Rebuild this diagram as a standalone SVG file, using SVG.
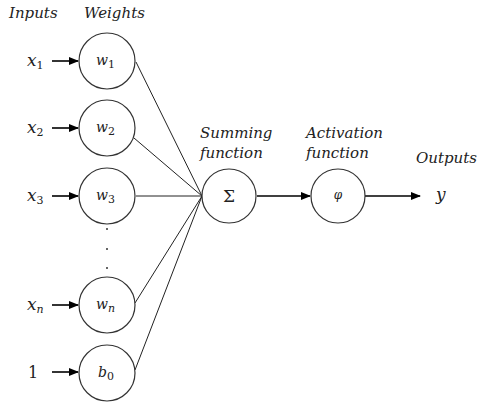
<svg xmlns="http://www.w3.org/2000/svg" width="478" height="405" viewBox="0 0 478 405">
<defs>
<marker id="ah" markerWidth="10" markerHeight="8" refX="9" refY="4" orient="auto" markerUnits="userSpaceOnUse">
<path d="M0,0 L10,4 L0,8 Z" fill="#000"/>
</marker>
<style>
.c{fill:#fff;stroke:#333;stroke-width:1.2}
.t{font-family:"DejaVu Serif","Liberation Serif",serif;font-style:italic;font-size:15px;fill:#222}
.m{font-family:"DejaVu Serif","Liberation Serif",serif;font-style:italic;font-size:17px;fill:#222}
.s{font-size:11px;font-style:normal}
.si{font-size:11px;font-style:italic}
.l{stroke:#222;stroke-width:1;fill:none}
.a{stroke:#000;stroke-width:1.6;fill:none;marker-end:url(#ah)}
</style>
</defs>
<rect width="478" height="405" fill="#fff"/>
<text class="t" x="9" y="18">Inputs</text>
<text class="t" x="84" y="18">Weights</text>
<text class="t" x="200" y="138">Summing</text>
<text class="t" x="200" y="158">function</text>
<text class="t" x="306" y="138">Activation</text>
<text class="t" x="306" y="158">function</text>
<text class="t" x="416" y="163">Outputs</text>
<g id="connectors">
<line class="l" x1="136" y1="62" x2="202" y2="196"/>
<line class="l" x1="134" y1="138" x2="202" y2="196"/>
<line class="l" x1="136" y1="196" x2="202" y2="196"/>
<line class="l" x1="135" y1="303" x2="202" y2="196"/>
<line class="l" x1="135" y1="370" x2="202" y2="196"/>
<line class="a" x1="52" y1="61" x2="78" y2="61"/>
<line class="a" x1="52" y1="128" x2="78" y2="128"/>
<line class="a" x1="52" y1="196" x2="78" y2="196"/>
<line class="a" x1="52" y1="305" x2="78" y2="305"/>
<line class="a" x1="52" y1="372" x2="78" y2="372"/>
<line class="a" x1="257" y1="196" x2="310" y2="196"/>
<line class="a" x1="365" y1="196" x2="420" y2="196"/>
</g>
<g id="in1"><text class="m" x="27" y="66">x<tspan class="s" dy="3">1</tspan></text></g>
<g id="in2"><text class="m" x="27" y="133">x<tspan class="s" dy="3">2</tspan></text></g>
<g id="in3"><text class="m" x="27" y="201">x<tspan class="s" dy="3">3</tspan></text></g>
<g id="inn"><text class="m" x="27" y="310">x<tspan class="si" dy="3">n</tspan></text></g>
<g id="in0"><text x="28" y="378" style="font-family:'DejaVu Serif',serif;font-size:16px;fill:#222">1</text></g>
<g id="w1"><circle class="c" cx="107" cy="61" r="28"/><text class="m" x="96" y="65" style="font-size:14px">w<tspan class="s" dy="3">1</tspan></text></g>
<g id="w2"><circle class="c" cx="107" cy="128" r="28"/><text class="m" x="96" y="132" style="font-size:14px">w<tspan class="s" dy="3">2</tspan></text></g>
<g id="w3"><circle class="c" cx="107" cy="196" r="28"/><text class="m" x="96" y="200" style="font-size:14px">w<tspan class="s" dy="3">3</tspan></text></g>
<g id="dots" fill="#333"><circle cx="107" cy="229" r="1"/><circle cx="107" cy="249" r="1"/><circle cx="107" cy="268" r="1"/></g>
<g id="wn"><circle class="c" cx="107" cy="305" r="28"/><text class="m" x="96" y="309" style="font-size:14px">w<tspan class="si" dy="3">n</tspan></text></g>
<g id="b0"><circle class="c" cx="107" cy="373" r="28"/><text class="m" x="98" y="377" style="font-size:14px">b<tspan class="s" dy="3">0</tspan></text></g>
<g id="sum"><circle class="c" cx="229" cy="196" r="27"/><text x="229" y="202" text-anchor="middle" style="font-family:'DejaVu Serif',serif;font-size:17px;fill:#222">Σ</text></g>
<g id="act"><circle class="c" cx="338" cy="196" r="27"/><text class="m" x="338" y="199" text-anchor="middle" style="font-size:12px">φ</text></g>
<g id="out"><text class="m" x="436" y="200">y</text></g>
</svg>
